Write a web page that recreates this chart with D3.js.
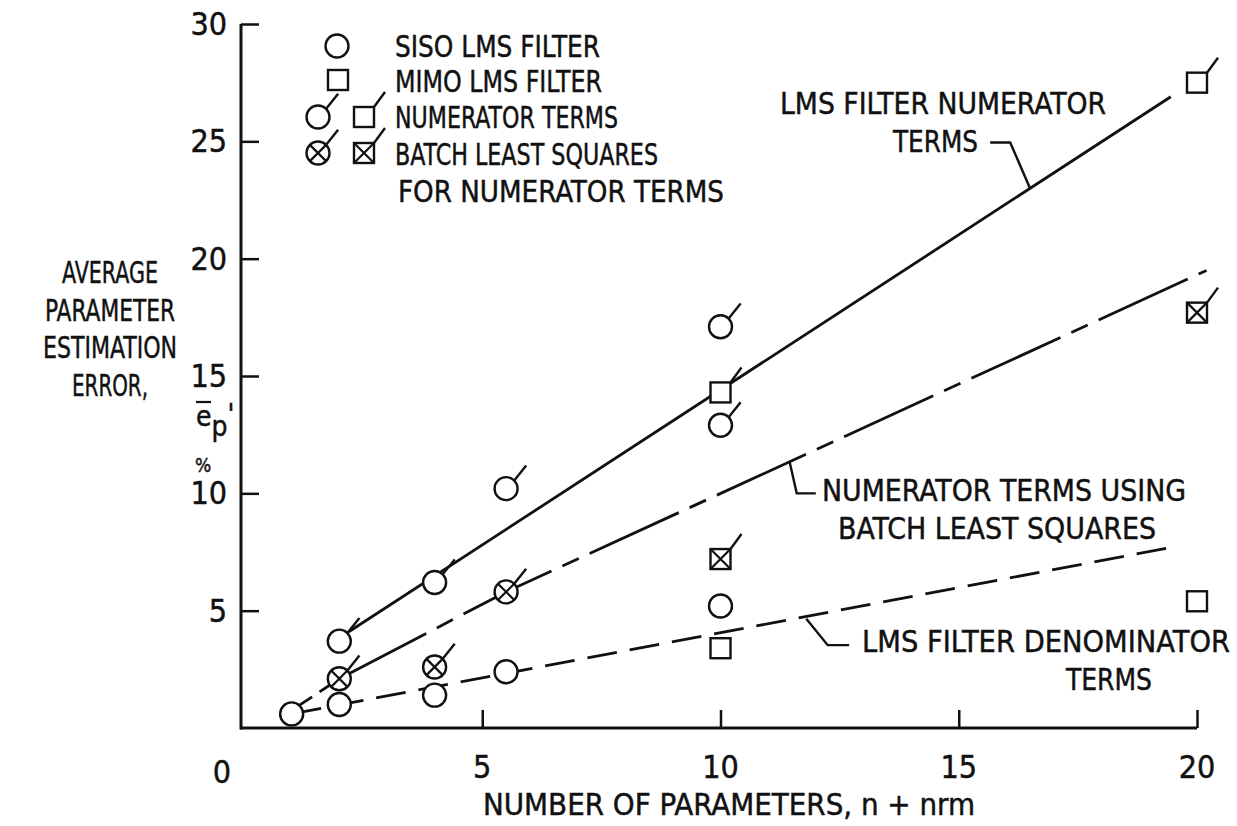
<!DOCTYPE html>
<html><head><meta charset="utf-8">
<script src="https://cdn.jsdelivr.net/npm/d3@7"></script>
<style>
html,body{margin:0;padding:0;background:#fff;}
svg{display:block;}
text{font-family:"Liberation Sans Narrow","DejaVu Sans Condensed","Roboto Condensed",sans-serif;fill:#111;stroke:#111;stroke-width:0.45px;}
</style></head>
<body>
<svg id="chart" width="1237" height="826"></svg>
<script>
// ---- data ----
const xTickValues = [5, 10, 15, 20];
const xTickLabels = ["5", "10", "15", "20"];
const yTickValues = [5, 10, 15, 20, 25, 30];
const yTickLabels = ["5", "10", "15", "20", "25", "30"];

// SISO LMS filter, denominator terms (plain circles)
const sisoDenX = [1, 2, 4, 5.5, 10];
const sisoDenY = [0.6, 1.0, 1.4, 2.4, 5.2];
// MIMO LMS filter, denominator terms (plain squares)
const mimoDenX = [10, 20];
const mimoDenY = [3.4, 5.4];
// SISO numerator terms (flagged circles)
const sisoNumX = [2, 4, 5.5, 10, 10];
const sisoNumY = [3.7, 6.2, 10.2, 12.9, 17.1];
// MIMO numerator terms (flagged squares)
const mimoNumX = [10, 20];
const mimoNumY = [14.3, 27.5];
// Batch least squares, SISO (flagged crossed circles)
const sisoBlsX = [2, 4, 5.5];
const sisoBlsY = [2.1, 2.6, 5.8];
// Batch least squares, MIMO (flagged crossed squares)
const mimoBlsX = [10, 20];
const mimoBlsY = [7.2, 17.7];

// fitted curves
const numLineX = [2.2, 19.45];
const numLineY = [4.1, 26.9];
const blsLeadX = [1.15, 2];
const blsLeadY = [0.95, 2.1];
const blsLineX = [2, 5.5, 20.2];
const blsLineY = [2.1, 5.8, 19.5];
const denLineX = [1, 19.6];
const denLineY = [0.6, 7.75];

// ---- layout ----
const svg = d3.select("#chart");
const x = d3.scaleLinear().domain([0, 20]).range([244, 1197]);
const y = d3.scaleLinear().domain([0, 30]).range([728, 24]);
const ink = "#111";

// axes
const gx = svg.append("g").attr("transform", `translate(0,${y(0)})`)
  .call(d3.axisTop(x).tickValues(xTickValues).tickSize(18).tickFormat(() => ""));
gx.select(".domain").attr("d", `M${x(0)-4},0H${x(20)}`).attr("stroke", ink).attr("stroke-width", 3);
gx.selectAll(".tick line").attr("stroke", ink).attr("stroke-width", 2.5);

const gy = svg.append("g").attr("transform", `translate(${x(0)-3},0)`)
  .call(d3.axisRight(y).tickValues(yTickValues).tickSize(18).tickFormat(() => ""));
gy.select(".domain").attr("d", `M0,${y(30)}V${y(0)+1.5}`).attr("stroke", ink).attr("stroke-width", 3);
gy.selectAll(".tick line").attr("stroke", ink).attr("stroke-width", 2.5);

// tick labels
svg.append("g").selectAll("text").data(xTickValues).join("text")
  .attr("x", d => x(d)).attr("y", 778).attr("text-anchor", "middle")
  .attr("font-size", 32).text((d, i) => xTickLabels[i]);
svg.append("text").attr("x", 222).attr("y", 783).attr("text-anchor", "middle")
  .attr("font-size", 32).text("0");
svg.append("g").selectAll("text").data(yTickValues).join("text")
  .attr("x", 227).attr("y", d => y(d) + 11).attr("text-anchor", "end")
  .attr("font-size", 32).text((d, i) => yTickLabels[i]);

// ---- lines ----
const line = d3.line().x(d => x(d[0])).y(d => y(d[1]));
const zip = (a, b) => a.map((v, i) => [v, b[i]]);
svg.append("path").datum(zip(numLineX, numLineY)).attr("d", line)
  .attr("fill", "none").attr("stroke", ink).attr("stroke-width", 2.8);
svg.append("path").datum(zip(blsLeadX, blsLeadY)).attr("d", line)
  .attr("fill", "none").attr("stroke", ink).attr("stroke-width", 2.8).attr("stroke-dasharray", "16,9");
svg.append("path").datum(zip(blsLineX, blsLineY)).attr("d", line)
  .attr("fill", "none").attr("stroke", ink).attr("stroke-width", 2.8).attr("stroke-dasharray", "98,12,18,12");
svg.append("path").datum(zip(denLineX, denLineY)).attr("d", line)
  .attr("fill", "none").attr("stroke", ink).attr("stroke-width", 2.8).attr("stroke-dasharray", "30,13");

// ---- markers ----
const R = 11.5, S = 20;
function circle(g, cx, cy, crossed, flag) {
  g.append("circle").attr("cx", cx).attr("cy", cy).attr("r", R)
    .attr("fill", "#fff").attr("stroke", ink).attr("stroke-width", 2.4);
  if (crossed) {
    const k = R * 0.7071;
    g.append("path").attr("d", `M${cx-k},${cy-k}L${cx+k},${cy+k}M${cx-k},${cy+k}L${cx+k},${cy-k}`)
      .attr("stroke", ink).attr("stroke-width", 2.2);
  }
  if (flag) {
    const k = R * 0.7071;
    g.append("path").attr("d", `M${cx+k},${cy-k}l12,-15`).attr("stroke", ink).attr("stroke-width", 2.4);
  }
}
function square(g, cx, cy, crossed, flag) {
  const h = S / 2;
  g.append("rect").attr("x", cx - h).attr("y", cy - h).attr("width", S).attr("height", S)
    .attr("fill", "#fff").attr("stroke", ink).attr("stroke-width", 2.4);
  if (crossed) {
    g.append("path").attr("d", `M${cx-h},${cy-h}L${cx+h},${cy+h}M${cx-h},${cy+h}L${cx+h},${cy-h}`)
      .attr("stroke", ink).attr("stroke-width", 2.2);
  }
  if (flag) {
    g.append("path").attr("d", `M${cx+h},${cy-h}l11,-15`).attr("stroke", ink).attr("stroke-width", 2.4);
  }
}
const mk = svg.append("g");
sisoDenX.forEach((v, i) => circle(mk, x(v), y(sisoDenY[i]), false, false));
mimoDenX.forEach((v, i) => square(mk, x(v), y(mimoDenY[i]), false, false));
sisoNumX.forEach((v, i) => circle(mk, x(v), y(sisoNumY[i]), false, true));
mimoNumX.forEach((v, i) => square(mk, x(v), y(mimoNumY[i]), false, true));
sisoBlsX.forEach((v, i) => circle(mk, x(v), y(sisoBlsY[i]), true, true));
mimoBlsX.forEach((v, i) => square(mk, x(v), y(mimoBlsY[i]), true, true));

// ---- legend ----
const lg = svg.append("g");
circle(lg, 337, 46, false, false);
square(lg, 338, 80, false, false);
circle(lg, 318, 117, false, true);
square(lg, 364, 117, false, true);
circle(lg, 318, 153, true, true);
square(lg, 364, 153, true, true);
const legendText = [
  ["SISO LMS FILTER", 395, 57, 205],
  ["MIMO LMS FILTER", 395, 92, 207],
  ["NUMERATOR TERMS", 395, 128, 223],
  ["BATCH LEAST SQUARES", 395, 165, 263],
  ["FOR NUMERATOR TERMS", 398, 202, 326]
];
lg.selectAll("text").data(legendText).join("text")
  .attr("x", d => d[1]).attr("y", d => d[2]).attr("font-size", 30)
  .attr("textLength", d => d[3]).attr("lengthAdjust", "spacingAndGlyphs").text(d => d[0]);

// ---- annotations ----
const ann = svg.append("g");
function label(t, xx, yy, w) {
  ann.append("text").attr("x", xx).attr("y", yy).attr("font-size", 30)
    .attr("textLength", w).attr("lengthAdjust", "spacingAndGlyphs").text(t);
}
label("LMS FILTER NUMERATOR", 780, 114, 326);
label("TERMS", 893, 152, 85);
label("NUMERATOR TERMS USING", 822, 501, 364);
label("BATCH LEAST SQUARES", 838, 539, 318);
label("LMS FILTER DENOMINATOR", 862, 652, 368);
label("TERMS", 1066, 690, 86);

// leaders (data coordinates)
const leadNumX = [15.66, 16.08, 16.5], leadNumY = [24.95, 24.95, 22.98];
const leadBlsX = [12.0, 11.6, 11.45], leadBlsY = [10.0, 10.0, 11.35];
const leadDenX = [12.7, 12.25, 11.8], leadDenY = [3.53, 3.53, 4.66];
[[leadNumX, leadNumY], [leadBlsX, leadBlsY], [leadDenX, leadDenY]].forEach(([a, b]) => {
  ann.append("path").datum(zip(a, b)).attr("d", line).attr("fill", "none")
    .attr("stroke", ink).attr("stroke-width", 2.4);
});

// axis titles
svg.append("text").attr("x", 729).attr("y", 815).attr("text-anchor", "middle")
  .attr("font-size", 30).attr("textLength", 492).attr("lengthAdjust", "spacingAndGlyphs")
  .text("NUMBER OF PARAMETERS,  n + nrm");
const yLab = [["AVERAGE", 283, 96], ["PARAMETER", 321, 130], ["ESTIMATION", 358, 134], ["ERROR,", 396, 76]];
svg.append("g").selectAll("text").data(yLab).join("text")
  .attr("x", 110).attr("y", d => d[1]).attr("text-anchor", "middle").attr("font-size", 30)
  .attr("textLength", d => d[2]).attr("lengthAdjust", "spacingAndGlyphs").text(d => d[0]);
const ep = svg.append("text").attr("x", 196).attr("y", 426).attr("font-size", 28);
ep.append("tspan").text("e");
ep.append("tspan").attr("dy", 10).text("p");
ep.append("tspan").attr("dy", -12).text("'");
svg.append("path").attr("d", "M196,402H211").attr("stroke", ink).attr("stroke-width", 2.2);
svg.append("text").attr("x", 203).attr("y", 472).attr("text-anchor", "middle").attr("font-size", 19).text("%");
</script>
</body></html>
